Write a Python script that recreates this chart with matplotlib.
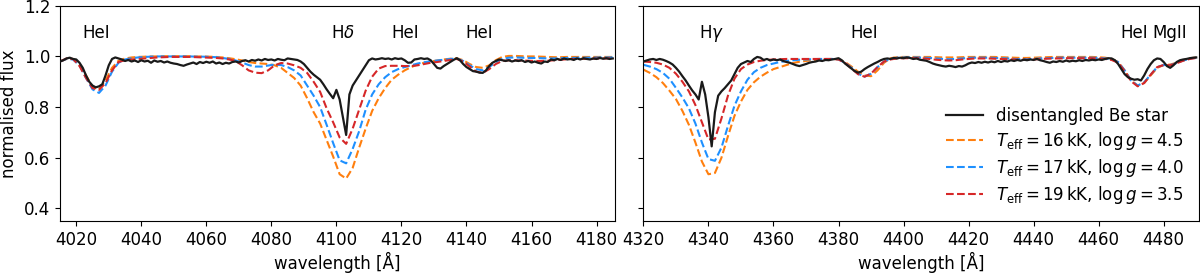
import numpy as np
import matplotlib
matplotlib.use('Agg')
from matplotlib import pyplot as plt

plt.rcParams['font.size'] = 12

# wavelength grids (Angstrom)
wl_obs_left = np.arange(4015, 4186)
wl_mod_left = np.arange(4015, 4186, 2)
wl_obs_right = np.arange(4320, 4491)
wl_mod_right = np.arange(4320, 4491, 2)

# disentangled Be star, 4015-4185
obs_left = [
    0.980, 0.985, 0.992, 0.995, 0.990, 0.988, 0.975, 0.955, 0.925, 0.900,
    0.885, 0.878, 0.882, 0.890, 0.925, 0.965, 0.990, 0.996, 0.992, 0.988,
    0.982, 0.986, 0.980, 0.984, 0.978, 0.985, 0.980, 0.983, 0.975, 0.984,
    0.979, 0.982, 0.976, 0.980, 0.975, 0.972, 0.970, 0.966, 0.963, 0.968,
    0.972, 0.976, 0.970, 0.978, 0.974, 0.979, 0.975, 0.980, 0.972, 0.976,
    0.970, 0.975, 0.972, 0.978, 0.980, 0.976, 0.982, 0.985, 0.980, 0.986,
    0.983, 0.988, 0.984, 0.990, 0.986, 0.988, 0.984, 0.990, 0.987, 0.985,
    0.992, 0.990, 0.988, 0.986, 0.980, 0.970, 0.955, 0.940, 0.928, 0.918,
    0.908, 0.890, 0.870, 0.852, 0.835, 0.868, 0.830, 0.760, 0.690, 0.850,
    0.885, 0.905, 0.925, 0.945, 0.965, 0.985, 0.992, 0.988, 0.990, 0.993,
    0.990, 0.992, 0.988, 0.993, 0.990, 0.992, 0.985, 0.975, 0.976, 0.988,
    0.990, 0.993, 0.990, 0.992, 0.985, 0.970, 0.955, 0.952, 0.962, 0.970,
    0.978, 0.986, 0.993, 0.985, 0.970, 0.958, 0.950, 0.942, 0.940, 0.936,
    0.935, 0.945, 0.962, 0.975, 0.982, 0.988, 0.985, 0.982, 0.985, 0.980,
    0.984, 0.982, 0.985, 0.978, 0.982, 0.976, 0.980, 0.975, 0.972, 0.980,
    0.978, 0.988, 0.985, 0.990, 0.986, 0.992, 0.988, 0.990, 0.986, 0.992,
    0.988, 0.993, 0.990, 0.988, 0.992, 0.990, 0.994, 0.991, 0.993, 0.990, 0.992]

# model spectra, 4015-4185 every 2 A
t16_left = [
    0.980, 0.990, 0.990, 0.970, 0.925, 0.880, 0.870, 0.905, 0.955, 0.983,
    0.992, 0.996, 0.998, 0.999, 1.000, 1.000, 1.001, 1.001, 1.001, 1.001,
    1.001, 1.000, 1.000, 0.999, 0.998, 0.996, 0.993, 0.989, 0.984, 0.978,
    0.974, 0.972, 0.970, 0.965, 0.955, 0.935, 0.915, 0.885, 0.835, 0.780,
    0.735, 0.670, 0.605, 0.535, 0.518, 0.560, 0.640, 0.715, 0.785, 0.835,
    0.875, 0.908, 0.928, 0.945, 0.958, 0.968, 0.975, 0.980, 0.984, 0.988,
    0.991, 0.993, 0.985, 0.970, 0.958, 0.955, 0.965, 0.985, 0.998, 1.002,
    1.002, 1.001, 1.000, 1.000, 0.999, 0.998, 0.997, 0.997, 0.998, 0.998,
    0.998, 0.998, 0.998, 0.998, 0.998, 0.998]
t17_left = [
    0.980, 0.990, 0.988, 0.965, 0.915, 0.870, 0.856, 0.885, 0.940, 0.975,
    0.988, 0.993, 0.996, 0.998, 0.999, 1.000, 1.000, 1.000, 1.000, 1.000,
    1.000, 0.999, 0.999, 0.998, 0.997, 0.994, 0.990, 0.984, 0.976, 0.966,
    0.960, 0.960, 0.964, 0.968, 0.966, 0.958, 0.945, 0.925, 0.885, 0.845,
    0.800, 0.730, 0.658, 0.590, 0.578, 0.635, 0.705, 0.790, 0.850, 0.890,
    0.918, 0.938, 0.950, 0.958, 0.965, 0.972, 0.977, 0.981, 0.984, 0.987,
    0.990, 0.992, 0.982, 0.965, 0.950, 0.945, 0.958, 0.978, 0.990, 0.995,
    0.996, 0.995, 0.994, 0.994, 0.993, 0.992, 0.992, 0.993, 0.994, 0.994,
    0.995, 0.995, 0.995, 0.996, 0.996, 0.996]
t19_left = [
    0.980, 0.992, 0.990, 0.962, 0.915, 0.875, 0.868, 0.895, 0.945, 0.978,
    0.985, 0.988, 0.990, 0.992, 0.994, 0.996, 0.997, 0.998, 0.998, 0.998,
    0.998, 0.997, 0.996, 0.995, 0.994, 0.992, 0.988, 0.982, 0.965, 0.945,
    0.936, 0.934, 0.945, 0.965, 0.974, 0.972, 0.965, 0.955, 0.935, 0.900,
    0.860, 0.795, 0.740, 0.680, 0.655, 0.715, 0.790, 0.865, 0.920, 0.952,
    0.962, 0.963, 0.963, 0.962, 0.962, 0.965, 0.970, 0.975, 0.978, 0.982,
    0.986, 0.990, 0.980, 0.960, 0.940, 0.935, 0.950, 0.970, 0.982, 0.985,
    0.985, 0.984, 0.983, 0.982, 0.982, 0.983, 0.985, 0.987, 0.989, 0.990,
    0.990, 0.990, 0.991, 0.992, 0.992, 0.993]

# disentangled Be star, 4320-4490
obs_right = [
    0.980, 0.984, 0.988, 0.990, 0.986, 0.990, 0.987, 0.982, 0.976, 0.968,
    0.955, 0.940, 0.922, 0.905, 0.885, 0.866, 0.850, 0.830, 0.900, 0.850,
    0.760, 0.645, 0.780, 0.845, 0.862, 0.875, 0.890, 0.905, 0.930, 0.955,
    0.970, 0.976, 0.982, 0.978, 0.990, 0.998, 0.995, 0.986, 0.990, 0.984,
    0.988, 0.985, 0.988, 0.982, 0.978, 0.975, 0.970, 0.965, 0.962, 0.966,
    0.970, 0.975, 0.978, 0.980, 0.984, 0.982, 0.986, 0.985, 0.988, 0.990,
    0.993, 0.985, 0.972, 0.962, 0.952, 0.942, 0.936, 0.940, 0.950, 0.958,
    0.965, 0.972, 0.978, 0.985, 0.990, 0.992, 0.990, 0.994, 0.992, 0.995,
    0.993, 0.996, 0.994, 0.990, 0.992, 0.987, 0.985, 0.983, 0.978, 0.972,
    0.968, 0.965, 0.962, 0.960, 0.963, 0.961, 0.958, 0.962, 0.960, 0.965,
    0.972, 0.976, 0.974, 0.978, 0.975, 0.979, 0.976, 0.980, 0.977, 0.982,
    0.978, 0.982, 0.980, 0.985, 0.982, 0.986, 0.983, 0.987, 0.985, 0.988,
    0.986, 0.990, 0.985, 0.982, 0.978, 0.975, 0.980, 0.978, 0.982, 0.979,
    0.984, 0.980, 0.983, 0.981, 0.985, 0.982, 0.986, 0.984, 0.987, 0.985,
    0.988, 0.986, 0.990, 0.993, 0.992, 0.985, 0.970, 0.950, 0.930, 0.918,
    0.912, 0.908, 0.910, 0.905, 0.925, 0.950, 0.970, 0.985, 0.992, 0.990,
    0.978, 0.962, 0.955, 0.965, 0.978, 0.985, 0.988, 0.990, 0.993, 0.995, 0.996]

# model spectra, 4320-4490 every 2 A
t16_right = [
    0.948, 0.935, 0.918, 0.895, 0.865, 0.832, 0.785, 0.730, 0.660, 0.585,
    0.535, 0.540, 0.600, 0.685, 0.765, 0.822, 0.868, 0.898, 0.920, 0.936,
    0.950, 0.958, 0.966, 0.974, 0.979, 0.982, 0.985, 0.987, 0.988, 0.990,
    0.988, 0.978, 0.960, 0.940, 0.925, 0.922, 0.945, 0.975, 0.993, 0.997,
    0.998, 0.998, 0.998, 0.998, 0.998, 0.997, 0.996, 0.996, 0.996, 0.997,
    0.998, 0.998, 0.998, 0.998, 0.998, 0.997, 0.996, 0.995, 0.994, 0.994,
    0.995, 0.996, 0.997, 0.998, 0.998, 0.998, 0.998, 0.998, 0.998, 0.998,
    0.997, 0.995, 0.990, 0.978, 0.945, 0.905, 0.885, 0.895, 0.925, 0.955,
    0.966, 0.968, 0.975, 0.985, 0.992, 0.996]
t17_right = [
    0.967, 0.960, 0.950, 0.935, 0.912, 0.876, 0.838, 0.795, 0.735, 0.660,
    0.595, 0.588, 0.640, 0.725, 0.805, 0.862, 0.908, 0.938, 0.955, 0.966,
    0.972, 0.978, 0.982, 0.985, 0.987, 0.988, 0.989, 0.990, 0.990, 0.990,
    0.988, 0.975, 0.955, 0.932, 0.920, 0.932, 0.958, 0.980, 0.990, 0.995,
    0.996, 0.996, 0.996, 0.995, 0.994, 0.992, 0.990, 0.989, 0.990, 0.992,
    0.994, 0.995, 0.995, 0.995, 0.994, 0.993, 0.992, 0.990, 0.989, 0.989,
    0.990, 0.992, 0.993, 0.994, 0.995, 0.995, 0.995, 0.995, 0.995, 0.995,
    0.994, 0.992, 0.988, 0.978, 0.945, 0.905, 0.885, 0.898, 0.928, 0.958,
    0.966, 0.966, 0.974, 0.984, 0.991, 0.995]
t19_right = [
    0.980, 0.978, 0.975, 0.968, 0.955, 0.932, 0.900, 0.862, 0.808, 0.740,
    0.672, 0.675, 0.755, 0.845, 0.912, 0.950, 0.968, 0.978, 0.983, 0.986,
    0.988, 0.989, 0.990, 0.990, 0.990, 0.990, 0.990, 0.990, 0.990, 0.990,
    0.988, 0.975, 0.952, 0.930, 0.920, 0.932, 0.958, 0.980, 0.988, 0.992,
    0.993, 0.993, 0.993, 0.992, 0.990, 0.987, 0.985, 0.984, 0.985, 0.988,
    0.990, 0.992, 0.992, 0.992, 0.991, 0.990, 0.989, 0.988, 0.987, 0.987,
    0.988, 0.990, 0.991, 0.992, 0.992, 0.993, 0.993, 0.993, 0.993, 0.993,
    0.992, 0.990, 0.986, 0.975, 0.942, 0.902, 0.882, 0.895, 0.928, 0.958,
    0.966, 0.965, 0.973, 0.983, 0.990, 0.994]

model_labels = [r'$T_{\rm eff} = 16\,$kK, $\log g = 4.5$',
                r'$T_{\rm eff} = 17\,$kK, $\log g = 4.0$',
                r'$T_{\rm eff} = 19\,$kK, $\log g = 3.5$']
model_colors = ['tab:orange', 'dodgerblue', 'tab:red']

lines_left = ['HeI', r'H$\delta$', 'HeI', 'HeI']
lines_left_wl = [4026, 4102, 4121, 4144]
lines_right = [r'H$\gamma$', 'HeI', 'HeI', 'MgII']
lines_right_wl = [4340.8, 4388, 4471, 4482]

fig, (ax1, ax2) = plt.subplots(1, 2, figsize=(12, 2.74), dpi=100, sharey=True)
fig.subplots_adjust(left=0.05, right=0.999, bottom=0.193, top=0.979, wspace=0.0504)

ax1.plot(wl_obs_left, obs_left, color='#1a1a1a', lw=1.6, zorder=3)
for flux, c in zip([t16_left, t17_left, t19_left], model_colors):
    ax1.plot(wl_mod_left, flux, '--', color=c, lw=1.5)

ax2.plot(wl_obs_right, obs_right, color='#1a1a1a', lw=1.6, zorder=3, label='disentangled Be star')
for flux, c, lab in zip([t16_right, t17_right, t19_right], model_colors, model_labels):
    ax2.plot(wl_mod_right, flux, '--', color=c, lw=1.5, label=lab)

for name, wl in zip(lines_left, lines_left_wl):
    ax1.text(wl, 1.092, name, ha='center', va='center')
for name, wl in zip(lines_right, lines_right_wl):
    ax2.text(wl, 1.092, name, ha='center', va='center')

ax1.set_xlim(4015, 4185.8)
ax2.set_xlim(4320, 4490.8)
ax1.set_ylim(0.35, 1.2)
ax1.set_xticks(np.arange(4020, 4181, 20))
ax2.set_xticks(np.arange(4320, 4481, 20))
ax1.set_yticks([0.4, 0.6, 0.8, 1.0, 1.2])
ax1.set_xlabel('wavelength [Å]', labelpad=2)
ax2.set_xlabel('wavelength [Å]', labelpad=2)
ax1.set_ylabel('normalised flux')
ax2.legend(loc='lower right', frameon=False, handlelength=2.2, labelspacing=0.3)

plt.savefig('out.png', dpi=100)
